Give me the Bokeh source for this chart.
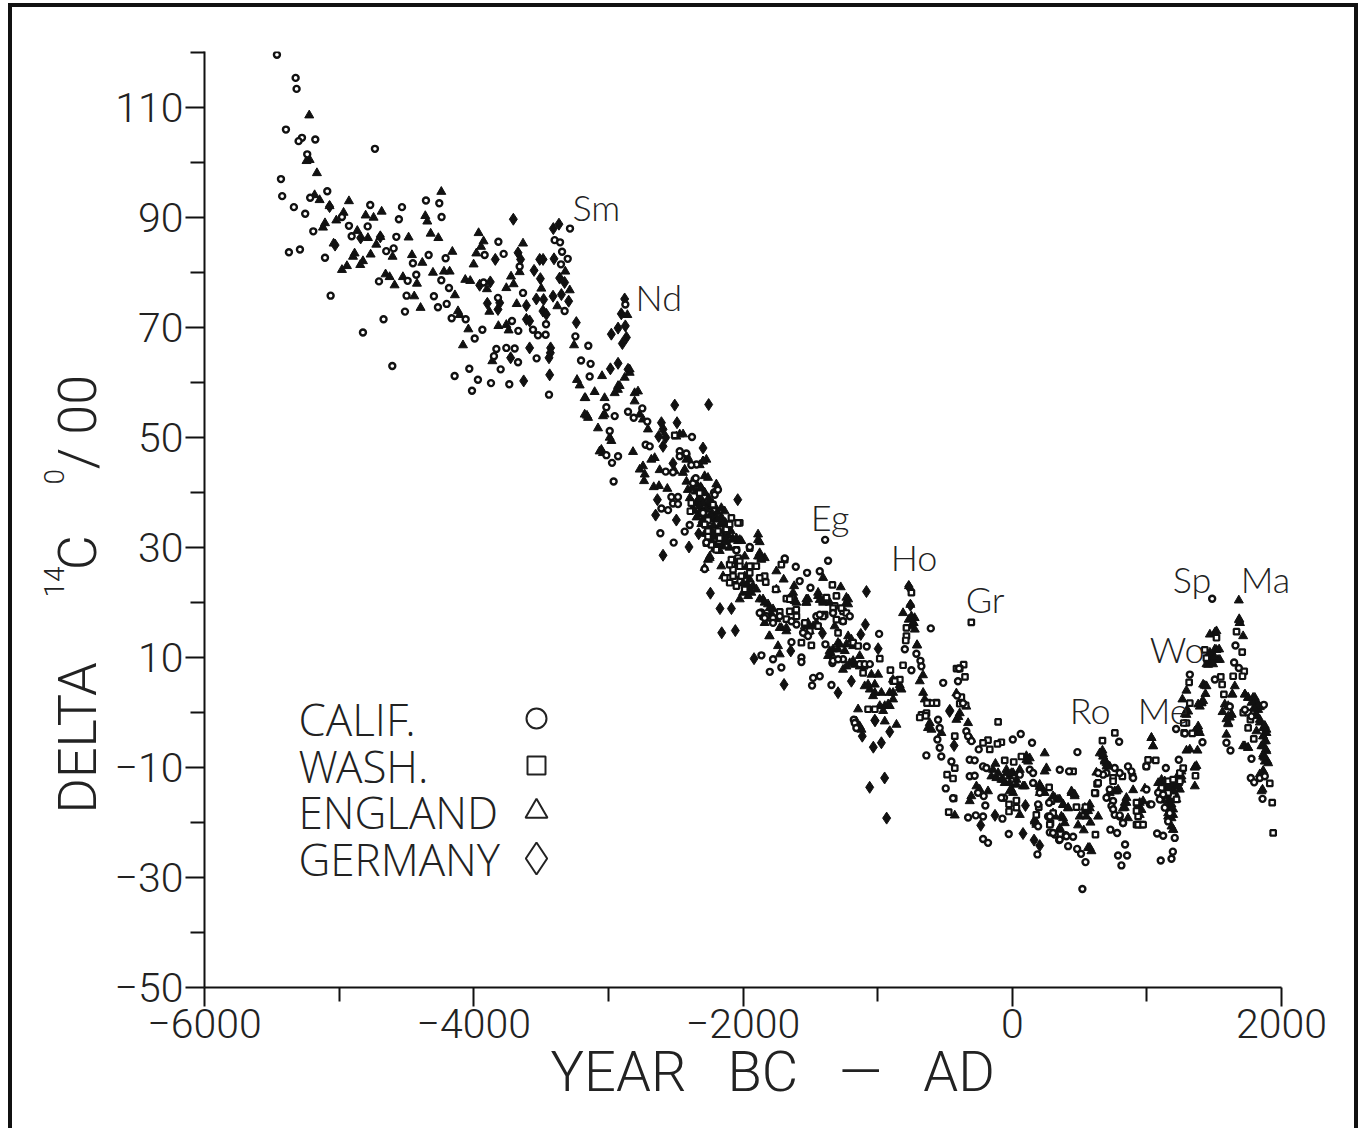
from bokeh.plotting import figure
from bokeh.embed import file_html
from bokeh.resources import INLINE
from bokeh.models import Label, FixedTicker, Range1d

calif = [(-5462,119.6),(-5323,115.4),(-5316,113.4),(-5395,106),(-5276,104.5),(-5301,103.9),(-5177,104.2),(-4734,102.5),(-5237,101.5),(-5432,97),(-5423,93.9),(-5336,91.9),(-5252,90.7),(-5215,93.6),(-5088,94.8),(-5192,87.5),(-5373,83.7),(-5291,84.2),(-5105,82.7),(-5063,75.8),(-4979,90.1),(-4927,88.5),(-4907,86.6),(-4788,88.4),(-4769,92.3),(-4556,89.7),(-4533,91.9),(-4575,86.5),(-4650,83.9),(-4595,84.4),(-4704,78.4),(-4452,81.7),(-4335,83.2),(-4427,79.6),(-4491,78.5),(-4499,75.8),(-4670,71.5),(-4823,69.1),(-4605,63),(-4355,93.1),(-4256,92.6),(-4239,90.1),(-4209,82.6),(-4241,78.6),(-4296,75.7),(-4184,77.2),(-4201,74.3),(-4266,73.7),(-4511,72.9),(-4164,71.7),(-4060,71.5),(-3936,69.6),(-3993,68),(-4142,61.2),(-4033,62.5),(-3969,60.5),(-4013,58.5),(-3872,59.9),(-3736,59.7),(-3800,62.4),(-3832,66.1),(-3850,64.8),(-3758,66.3),(-3696,66.2),(-3671,63.7),(-3533,64.4),(-3669,69.4),(-3716,71.2),(-3634,76.3),(-3817,85.6),(-3919,83.2),(-3778,83.4),(-3659,81.1),(-3820,75.4),(-3927,78.2),(-3463,70.6),(-3523,68.6),(-3466,68.7),(-3560,69.6),(-3285,88),(-3399,85.9),(-3359,85.5),(-3344,83.8),(-3302,82.5),(-3352,81.5),(-3325,73),(-3441,57.8),(-3245,68.4),(-3149,66.7),(-3203,64),(-3132,63.4),(-3139,61.1),(-2874,74.2),
(-3015,55.5),(-2953,53.9),(-2854,54.7),(-2812,53.6),(-2748,55.3),(-2711,52.9),(-2379,50.1),(-2723,48.7),(-2693,48.4),(-2990,51.2),(-3015,46.8),(-2928,46.6),(-2973,45.4),(-2961,42),(-2574,43.8),(-2507,38.7),(-2532,39.2),(-2483,39.2),(-2520,38),(-2483,37.9),(-2614,32.6),(-2515,30.9),(-2433,32.9),(-2396,34.1),(-2557,36.8),(-2606,37.1),(-2470,47.5),(-2421,46.9),(-2346,45.1),(-2359,42.4),(-2215,40),(-2297,36.3),(-2272,30.9),(-2285,26.1),(-1950,30.1),(-2049,29.5),(-1690,28),(-1608,26.5),(-1524,25.4),(-1579,23.9),(-1430,25.7),(-1390,31.4),(-1368,27.6),(-1499,22.7),(-1207,17.5),(-989,14.3),(-1081,12),(-605,15.3),(-798,11.5),(-712,10.7),(-682,9.4),(-675,8.4),(-749,7.7),(-513,5.4),(-1863,10.4),(-1801,7.4),(-1715,8.2),(-1479,6.3),(-1430,6.6),(-1487,4.9),(-1343,5),(-1177,-1.3),(-1777,9.7),(-1640,12.8),(-1566,10),(-1566,9.2),(-1388,12.4),(-1336,9),(-1257,9.7),(-1529,14.2),(-1863,18.2),(-1826,17.5),(-1777,17.2),
(-395,8),(-403,5.7),(-410,3.1),(-366,1.7),(-341,-3.4),(-328,-4.3),(-303,-5.2),(-638,-7.8),(-551,-1.3),(-539,-2.8),(-556,-4.9),(-539,-6.4),(-527,-8),(-452,-8.9),(-494,-13.8),(-440,-15.6),(-328,-19.1),(-271,-18.7),(-217,-18.9),(-217,-23),(-180,-23.7),(-200,-16.9),(-212,-15.2),(-254,-14.6),(-316,-11.6),(-279,-11.5),(-316,-8.6),(-279,-8.7),(-249,-6.7),(-217,-9.8),(-192,-10.1),(-73,-19.3),(-26,-22.1),(-61,-15.5),(4,-4.9),(63,-3.9),(147,-5.5),(353,-10.4),(422,-10.7),(484,-7.2),(794,-5.3),(130,-10.4),(155,-11),(192,-16.7),(274,-16.4),(266,-18.9),(279,-21.8),(316,-22.2),(348,-23.2),(397,-22.3),(415,-24.3),(482,-24.8),(511,-25.7),(544,-27.2),(521,-32.1),(187,-25.8),(192,-20.7),(729,-21.3),(779,-21.9),(838,-24),(786,-26),(853,-26),(811,-27.8),(1103,-26.9),(1183,-26.6),(1193,-25.3),(1076,-22),(1121,-22.4),(1217,-3),(1282,-3.8),(1413,-5.4),(1237,-8.6),(1141,-10.1),(1319,6.9),(1485,20.7),(1505,6),(1658,12.2),(1648,9.1),(1683,8.1),(1728,.5),(1777,-.7),(1869,1.4),(1591,-5.5),(1621,-6.9),(1777,-8.4),(1772,-11.9),(1797,-12.7),(1839,-11.9),(1876,-11.6),(1859,-15.7),(700,-15.5),(749,-16.1),(737,-17),(761,-18.6),(798,-18.9),(823,-20.1),(860,-9.8),(885,-10.7),(700,-11),(675,-11.3),(638,-11),(1022,-16.7),(1084,-14.6),(1109,-15.8),(1133,-17.3),(1158,-19.8),(1170,-18.3),(1207,-22.8),(996,-9.8),(1616,1.1),
(-2470,46.6),(-2421,47.1),(-2384,45),(-2520,43.7),(-2371,41.7),(-2351,42.6),(-2210,39.6),(-2186,40.5),(-2297,36.3),
(-1876,18.1),(-1839,17.2),(-1777,16.3),(-1727,17.5),(-1640,16.6),(-1603,16),(-1554,14.5),(-1517,13.9),(-1455,17.5),(-1430,17.8),(-1331,18.1),(-1257,16.6),(-1331,9.4),(-1294,9.7),(-1133,8.8),(-1096,8.8),(-1058,8.8),(-1170,-1.9),(-1158,-2.8),
(-81,-15.5),(56,-11.3),(155,-12.8),(204,-14.6),(279,-18.9),(303,-21.9),(353,-23.1),(402,-22.5),(452,-22.6),(761,-10.1),(798,-11),(898,-11.9),(724,-14),(749,-17.6),(798,-18.7),(823,-20.1),(997,-14),(1034,-16.7),(1096,-15.8),(1121,-14.9)]

wash = [(-2024,34.5),(-2507,50.4),(-2173,32.2),(-2260,32),(-2178,31.2),(-2037,27.8),(-2079,26.7),(-2074,26),(-2099,24.5),(-2062,24.2),(-2012,24.8),(-1938,26.6),(-1950,25.4),(-1839,24.8),(-1831,23.7),(-1757,22.4),(-1678,20.7),(-1640,20.9),(-1653,18.4),(-1604,18.7),(-1727,18.3),(-1678,17),(-1801,17.2),(-1851,17.5),(-1306,21.2),(-1336,23.2),(-1380,20.9),(-1393,17.8),(-1319,19.4),(-1257,18.4),(-1306,16.9),(-1257,16.6),(-1294,14.5),(-1566,12.7),(-1492,12.2),(-984,9.8),(-811,8.6),(-905,7.7),(-1108,7.2),(-1071,.6),(-1021,.6),(-885,5.7),(-835,6),(-786,15.4),(-786,13.9),(-791,13.1),(-749,21.8),(-625,1.8),(-563,1.8),(-674,-.4),(-637,-.1),(-414,8),
(-304,16.4),(-361,8.7),(-390,8),(-351,6.5),(-378,2.8),(-390,1.6),(-346,1.3),(-564,1.7),(-601,1.7),(-633,1.7),(-643,-.6),(-687,-.9),(-105,-1.7),(-427,-4.3),(-180,-5),(-217,-5.5),(-81,-5.4),(-110,-5.7),(-167,-6.7),(-56,-8.7),(11,-9),(68,-8),(-484,-11.3),(-440,-12),(-427,-10.1),(-435,-15.6),(-472,-18.1),(-24,-16.7),(-24,-18),(31,-16),(31,-17.3),(179,-18.6),(197,-17.2),(274,-13.6),(284,-20.1),(304,-18.3),(291,-16.1),(452,-10.7),(477,-17.2),(544,-17.2),(618,-22.2),(630,-13),(618,-14.7),(670,-5.1),(762,-3.7),(818,-11.6),(749,-11.9),(749,-12.5),(893,-11.6),(930,-16.7),(960,-20.4),(923,-20.4),(935,-18.9),(1009,-8.6),(1066,-8.7),(996,-9.8),(1195,-15.2),(1158,-12.5),(1245,-12.5),(1245,-11),(1270,-10.1),(1319,1.7),(1294,-1.9),(1274,-1.9),(1277,-3.7),(1337,-3.8),(1361,-11.5),(1314,5.5),(1195,-12.2),(1158,-14.6),(1109,-13.7),(1220,-15.8),(1641,6.6),(1666,14.7),(1708,11),(1723,7.5),(1710,6.6),(1549,6.5),(1559,5.1),(1572,3.3),(1604,1.1),(1517,13.6),(1430,11.4),(1442,9.9),(1716,0),(1752,0),(1769,-1.3),(1752,-2.8),(1794,-4.8),(1913,-12.9),(1931,-16.4),(1938,-21.9),
(-2260,35),(-2186,33),(-2086,35.4),(-2037,34.5),(-2272,30.8),(-2173,31.7),(-2198,29.6),(-2049,29.6),(-2037,28.1),(-1950,29.9),(-2099,26.9),(-2024,27.5),(-1950,26.6),(-1690,27.8),(-1715,26.9),(-2260,33),(-2235,30.5),(-2322,39.9),(-2384,38.1),(-2391,36.6),(-2223,37.8),(-2124,33.3),(-2285,34.2),(-2099,34.2),
(-2136,24.5),(-2099,23.6),(-2049,23),(-1987,22.4),(-1901,26.6),(-1876,24.5),(-2086,27.8),(-2024,26.6),(-2074,24.8),(-1653,20.6),(-1603,17.5),(-1541,16.3),(-1504,14.8),(-1442,15.7),(-1405,17.5),(-1331,19),(-1269,19),(-1232,18.1),(-1182,12.7),(-1145,12.1),(-1120,8.8),(-1096,8.5),(-873,5.7),
(279,-20.4),(638,-12.8),(613,-14.6),(923,-17.9),(935,-20.4),(972,-20.4),(923,-16.4)]

england = [(-5222,108.6),(-5219,100.5),(-5242,100.3),(-5165,98.1),(-5145,93.2),(-5182,94.1),(-5071,92.1),(-4927,93),(-4967,90.9),(-5021,89.5),(-4803,90.4),(-4744,90),(-4684,91.1),(-5105,89),(-5120,88.2),(-4865,87.6),(-4786,86.3),(-4694,86.5),(-4484,86.4),(-4724,85.1),(-5041,85.3),(-4885,83.5),(-4897,82.9),(-4766,83.3),(-4823,82.1),(-4843,81.4),(-4942,81.2),(-4979,80.5),(-4603,82.9),(-4459,83.2),(-4382,81.8),(-4320,87.1),(-4263,86.3),(-4360,90.3),(-4345,89.3),(-4241,94.7),(-4159,83.8),(-4303,80),(-4221,80.2),(-4179,80.2),(-4655,79.7),(-4625,79.2),(-4526,79.2),(-4588,77.7),(-4422,78),(-4442,75.7),(-4395,73.6),(-4140,75.9),(-4117,73),(-4105,72.3),(-4040,69.7),(-4080,66.8),(-3964,87.2),(-3927,85.7),(-3946,84.7),(-3981,83.5),(-4001,81.5),(-4063,78.7),(-4026,78.5),(-3723,79.3),(-3704,77.9),(-3758,77.2),(-3902,77),(-3681,74.3),(-3884,72.9),(-3817,70.3),(-3758,70.5),(-3741,69.5),(-3862,63.9),(-3634,85.3),(-3498,77.1),(-3379,73.9),(-3659,80.1),(-3320,80.2),(-3287,76.8),(-3255,66.8),(-3233,60.5),(-3213,59.5),(-3047,61.2),(-3171,57.2),(-2859,72.3),(-2928,59.4),(-2842,61.8),(-3159,54),
(-3077,51.7),(-2817,47.4),(-2619,44.1),(-2663,41),(-2562,40.7),(-2624,41.2),(-2735,42.1),(-1888,32.4),(-1876,31),(-1752,25.7),(-1698,24.2),(-1274,22.8),(-707,12.3),(-811,18.1),(-769,16.9),(-1529,20.6),(-1133,10.3),(-1294,12.7),(-1244,11.2),(-947,-1.6),
(-707,12.2),(-663,6.8),(-427,-18.7),(-613,-1.9),(-626,-2.8),(-125,-9.3),(56,-18.6),(241,-7.4),(204,-13.1),(204,-14.6),(489,-20.5),(531,-21.4),(581,-20),(670,-6.9),(625,-10.9),(898,-14.1),(860,-19.2),(1356,-13.4),(1294,-6.9),(1376,-6.9),(1319,-6.7),(1381,-3.4),(1294,4),(1435,3.4),(1455,9.6),(1517,14.8),(1480,9),(1653,4.8),(1562,.1),(1591,-4),(1683,20.4),(1715,13.9),(1814,-3.4),(1839,1),
(-3176,57.2),(-3151,53.6),(-3176,54.2),(-3102,58.3),(-3028,57.2),(-2929,58.7),(-2953,58.1),(-2916,59.4),(-2879,60.9),(-2842,62.4),(-3040,53.9),(-3028,54.2),(-2990,50),(-2978,49.4),(-3052,47.8),(-3040,47.2),(-3065,47.5),(-2805,58.1),(-2780,58.4),(-2805,56.6),(-2767,54.2),(-2743,53.3),(-2706,51.5),(-2767,44.2),(-2743,44.8),(-2681,46),(-2656,46.3),(-2730,43.3),(-2421,46),(-2433,44.2),(-2297,45.7),(-2272,46),(-2285,43),(-2260,42.7),(-2198,41.5),(-2198,40.6),(-2470,50.6),(-2495,50.2),(-2445,50.6),(-2507,43.9),
(-2420,42),(-2410,40.5),(-2395,39),(-2380,40.8),(-2370,38),(-2362,36.7),(-2350,40.2),(-2340,38.3),(-2330,36),(-2320,39.2),(-2310,37),(-2300,35),(-2290,38),(-2280,35.8),(-2270,34),(-2262,37.4),(-2250,35.2),(-2240,33.2),(-2232,36.3),(-2220,34),(-2210,32),(-2200,35.3),(-2190,33),(-2180,31),(-2170,34.2),(-2160,32),(-2150,30.2),(-2140,33.1),(-2130,31),(-2120,34),(-2110,32.2),(-2100,30),(-2090,33),(-2080,31.5),(-2345,41.5),(-2315,41),(-2285,40),(-2255,39),(-2225,38),(-2190,36.5),(-2160,35.5),(-2130,34.5),(-2375,37),(-2345,35.5),(-2310,34.3),(-2275,32.5),(-2240,31),(-2205,30),
(-2260,27.8),(-2247,28.4),(-2161,26.6),(-2148,24.8),(-1999,21.8),(-1962,21.2),(-2024,20.6),(-1950,24.2),(-1925,23),(-1901,22.4),(-1987,24.8),(-1888,28.4),(-1863,28.1),(-1839,28.1),(-1876,29),(-2037,31.2),(-2012,31.2),(-2074,31.5),(-1987,28.4),(-2260,32.7),(-2235,30.9),(-2210,29.7),(-2173,29.4),(-1975,26.5),(-1960,23),(-2000,23.5),
(-1851,20.6),(-1814,19.7),(-1777,18.8),(-1839,16.3),(-1752,17),(-1715,15.4),(-1678,14.8),(-1628,21.8),(-1616,20.3),(-1517,20.6),(-1442,21.2),(-1405,20.3),(-1356,20),(-1517,15.7),(-1479,15.7),(-1504,14.8),(-1219,20.6),(-1232,20),(-1405,24.5),(-1802,13.9),(-1740,12.1),(-1727,10.6),(-1356,11.2),(-1331,11.5),(-1319,15.7),(-1752,22.4),(-1620,23),(-1790,18),(-1805,13.9),(-1530,20),(-1430,20.5),
(-1096,4.8),(-1058,4.2),(-1021,5.1),(-996,6.9),(-972,3.6),(-910,3.6),(-885,2.4),(-947,1.2),(-910,1.2),(-984,1.2),(-835,4.5),(-860,-2.2),(-1120,-3.1),(-1145,.6),(-1158,-1.6),(-1133,-2.5),(-1257,7.8),(-1207,9),(-1170,8.7),(-1133,8.4),(-1294,11.5),(-1232,12.4),(-1195,13.3),(-1343,10.6),(-1368,10.3),
(-836,5),(-861,5.7),(-886,6),(-767,23),(-757,19.6),(-732,16.3),(-725,17.2),(-749,15.7),(-415,-1.3),(-390,-.1),(-341,1.1),(-328,-1.9),(-304,-4.9),(-415,3.5),(-400,-.8),
(-155,-11.6),(-118,-11.9),(-81,-12.2),(-43,-10.4),(-19,-11.6),(6,-11),(31,-12.2),(56,-10.4),(-56,-12.8),(-6,-14),(80,-13.4),(105,-8.6),(130,-8.3),(-105,-11),(-143,-10.4),(254,-10.1),(241,-10.7),(-266,-13.4),(-242,-14),(-304,-15.2),(-316,-16.1),(-180,-14.3),(303,-15.2),(340,-15.8),(378,-16.8),(415,-17.4),(365,-18.9),(390,-20.1),(316,-18.9),(353,-21.3),(179,-20.1),(167,-19.5),(204,-13.5),(228,-14.2),(440,-14.6),(464,-15.2),(539,-18),(576,-17.4),(551,-18.9),(563,-24.6),(588,-25.2),(638,-18.9),(687,-8.6),(675,-8),(700,-9.2),(724,-9.8),(650,-7.4),(774,-14.3),(724,-14.6),(836,-16.4),(848,-15.5),(823,-17.4),(985,-13.8),(947,-16.4),(960,-17.7),(1034,-4.6),(1046,-6.1),
(1084,-12.8),(1121,-13.4),(1158,-12.8),(1195,-13.4),(1232,-12.8),(1257,-11.6),(1133,-14.6),(1170,-15.2),(1207,-14.6),(1245,-14),(1158,-16.1),(1183,-16.7),(1170,-17.6),(1195,-18.6),(1158,-18.9),(1195,-21.3),(1183,-20.7),(1109,-12.2),(1096,-14),(1220,-11.9),(1257,-10.7),(1356,-9.9),(1307,.2),(1294,-.4),(1381,-2.5),(1356,-3.4),(1406,1.7),(1393,1.1),(1430,4.9),(1467,10.5),(1492,10.2),(1517,11.4),(1529,9.6),(1480,9.3),(1455,8.7),(1505,14.5),(1690,16.3),(1685,16.8),(1633,3.3),(1604,-.7),(1629,-.4),(1604,-1.9),(1728,3.3),(1752,2.7),(1789,2.7),(1814,2),(1802,1.1),(1827,.5),(1814,-.4),(1839,-1.3),(1864,-2.8),(1888,-3.1),(1864,-4.3),(1876,-5.2),(1864,-6.1),(1888,-7),(1864,-8),(1876,-8.9),(1901,-9.2),(1728,-6.1),(1752,-6.4),(1864,-10.7),(1859,-14),
(1468,10.9),(1505,11.5),(1537,11.5),(1468,9.4),(1505,10),(1542,9.6),(1443,8.8),(1492,8.8),(1505,14.5),(1468,14.2),(1690,16.3),(1686,17),(1802,2.7),(1777,1.8),(1827,1.2),(1802,.6),(1728,3.3),(1752,2.7),(1814,-.6),(1839,-1.8),(1876,-2.4),(1888,-3.7),(1864,-4.3),(1884,-5.2),(1851,-6.1),(1884,-6.7),(1864,-7.6),(1894,-8.8),(1876,-8.2),(1864,-10.6),(1839,-11.2),(1715,-6.1),(1752,-6.4),(1851,-14.3),(1616,-.9),(1629,-.3),(1591,-1.2),(1579,1.5),(1604,1.2),(1604,-2.1),(1418,5.1),(1443,4.8),(1406,1.8),(1381,1.5),(1418,2.1),(1294,.3),(1282,-.3),(1264,2.4),(1356,-3.7),(1381,-3),(1393,-3.7),(1356,-10),(1368,-9.7),(1636,3.3),
(-43,-11),(-6,-11),(-68,-12.2),(-19,-12.8),(31,-13.1),(6,-14.6),(-19,-14.3),(118,-8.9),(105,-7.9),(93,-13.4),(217,-13.7),(241,-14.6),(316,-15.5),(353,-15.8),(378,-16.7),(415,-17.3),(167,-19.8),(179,-20.4),(303,-18.3),(378,-19.2),(353,-21),(440,-14.3),(464,-14.9),(539,-17.3),(563,-17.9),(576,-16.7),(501,-18.9),(576,-24.6),(675,-7.6),(687,-8.9),(700,-9.8),(761,-14.3),(786,-14),(848,-16.4),(836,-17.3),(935,-17.6),(947,-18.6),(972,-16.1),(1034,-4.6),(1046,-6.1),(1121,-13.1),(1158,-13.7),(1195,-14.3),(1232,-13.4),(1146,-14.9),(1183,-15.5),(1220,-15.8),(1170,-16.7),(1195,-17.6),(1158,-18.3),(1183,-19.2),(1133,-12.5),(1096,-14),(1257,-12.2),(1195,-21.3),
(-2446,43.6),(-2408,46.3),(-2322,45),(-2297,45.7),(-2359,41.7),(-2309,40.8),(-2285,39.9),(-2334,38.7),(-2297,38.1),(-2248,38.4),(-2210,37.5),(-2161,37.2),(-2136,36.6),(-2272,36.9),(-2322,37.5),(-2235,35.7),(-2186,35.1),(-2148,34.5),(-2111,33.6),(-2272,33),(-2223,32.6),(-2148,32.3),(-2124,31.4),(-2235,31.4),(-2186,30.5),(-2248,28.1),(-2285,26.3),(-1876,28.4),(-1864,27.8),(-2024,31.4),(-1888,31.4),(-2049,31.7),
(-1975,23),(-1950,22.4),(-1938,21.8),(-1876,20.6),(-1839,20),(-1802,19),(-1628,21.2),(-1603,20),(-1529,20),(-1442,21.8),(-1405,20),(-1232,20.9),(-1219,19.7),(-1517,16.3),(-1455,16.3),(-1541,15.7),(-1678,15.4),(-1727,15.4),(-1219,13.9),(-1281,12.4),(-1182,12.1),(-1232,8.4),(-1182,9.4),(-1046,6.9),(-1071,5.1),(-1021,3.6),(-1034,3),(-885,3.6),(-922,1.5),(-959,.3),(-600,-3.1),(-526,-3.7),(-662,3.6),(-650,2.4),(-687,5.7),(-823,4.2),(-736,16.3),(-724,15.1),(-749,17.5)]

germany = [(-3706,89.7),(-3409,88),(-3367,88.8),(-3404,82.5),(-3840,82.4),(-3671,83.6),(-3652,82.4),(-3552,80.4),(-3505,78.9),(-3510,82.4),(-3485,82.4),(-3877,78.3),(-3956,77.7),(-3899,74.4),(-3820,73.3),(-3807,74.5),(-3609,74),(-3535,75.2),(-3481,75.1),(-3486,73),(-3461,72.4),(-3609,71.5),(-3585,71.2),(-3585,66.3),(-3429,66.3),(-3431,65.4),(-3441,64.5),(-3436,61.4),(-3629,60.3),(-3726,64.5),(-3238,70.9),(-3411,75.7),(-3349,76),(-3295,74.8),(-3362,79),(-3325,78.2),(-2879,75.2),(-2904,72.5),(-2978,68.8),(-2928,69.9),(-2874,70.3),(-2866,68.2),(-2896,67.1),(-2928,63.5),(-2985,62.5),(-2854,62.4),(-5071,92),(-4840,86.3),(-5030,85),(-4694,86.5),
(-2507,55.9),(-2255,56),(-2490,52.7),(-2606,52.7),(-2594,51.5),(-2574,50),(-2626,50.2),(-2594,48.4),(-2297,48.1),(-2520,45.3),(-2039,38.7),(-2636,38.7),(-2649,35.9),(-2495,35),(-2329,32.5),(-2401,30.1),(-2594,28.6),(-2242,21.7),(-2171,18.9),(-2158,14.5),(-2057,14.9),(-2086,18.9),(-1083,22),(-1091,16),(-1410,14.4),(-1125,14.2),(-996,11.6),(-1918,9.8),(-1645,11.2),(-1695,5.1),(-1294,3.6),(-1195,5.7),(-769,22.9),(-756,19.5),(-464,.4),(-1021,-1.4),(-910,-3.5),
(-465,.2),(-1032,-6.3),(-972,-5.5),(-1019,-1.5),(-1114,-4.3),(-1059,-13.6),(-933,-19.2),(-948,-11.9),(-128,-18.7),(98,-16.9),(80,-22),(162,-23.2),(204,-24.2),(-234,-20.5),(-432,-6)]

x_labels = [-6000, -4000, -2000, 0, 2000]
x_minor = [-5000, -3000, -1000, 1000]
y_labels = [110, 90, 70, 50, 30, 10, -10, -30, -50]
y_minor = [120, 100, 80, 60, 40, 20, 0, -20, -40]
events = [("Sm",-3266,92),("Nd",-2798,75.6),("Eg",-1497,35.5),("Ho",-903,28.2),("Gr",-346,20.7),("Sp",1192,24.2),("Wo",1021,11.5),("Ro",427,0.4),("Me",932,0.4)]
edge_event = ("Ma",1697,24.2)
legend_names = ["CALIF.", "WASH.", "ENGLAND", "GERMANY"]

NB = "\u00a0"
L, R, T, B = 205, 1282, 52, 988
Y_TOP = 120.2
OX, OY = 13, 8   # the figure's content corner in the returned picture
W, H = 1350, 1125

def xp(px):
    return -6000 + (px - L) * 8000 / (R - L)
def yp(py):
    return -50 + (B - py) * (Y_TOP + 50) / (B - T)

p = figure(width=W, height=H, output_backend="svg", toolbar_location=None,
           x_range=Range1d(-6000, 2000), y_range=Range1d(-50, Y_TOP),
           min_border_left=L - OX, min_border_right=OX + W - R,
           min_border_top=T - OY, min_border_bottom=OY + H - B,
           styles={"margin": "3px 0 0 8px", "border-left": "4px solid #111111",
                   "border-top": "4px solid #111111", "border-right": "4px solid #111111"})
p.grid.visible = False
p.outline_line_color = None
p.background_fill_color = "white"

for ax, maj, mnr in ((p.xaxis[0], x_labels, x_minor), (p.yaxis[0], y_labels, y_minor)):
    ax.ticker = FixedTicker(ticks=maj, minor_ticks=mnr)
    ax.major_tick_in = 0
    ax.minor_tick_in = 0
    ax.major_tick_out = 19
    ax.minor_tick_out = 14
    ax.axis_line_width = 2
    ax.major_tick_line_width = 2
    ax.minor_tick_line_width = 2
    ax.axis_line_color = "#111111"
    ax.major_tick_line_color = "#111111"
    ax.minor_tick_line_color = "#111111"
    ax.major_label_text_font = "Roboto Light"
    ax.major_label_text_font_size = "41px"
    ax.major_label_text_color = "#222222"
    ax.major_label_standoff = 2
p.yaxis[0].major_label_orientation = "horizontal"

def xy(rows):
    return [r[0] for r in rows], [r[1] for r in rows]

gx, gy = xy(germany)
ex, ey = xy(england)
cx, cy = xy(calif)
wx, wy = xy(wash)
p.scatter(gx, gy, marker="diamond", size=12, color="#111111", line_width=1)
p.scatter(ex, ey, marker="triangle", size=9, color="#111111", line_width=1)
p.scatter(wx, wy, marker="square", size=5.5, fill_color="white", line_color="#111111", line_width=2.2)
p.scatter(cx, cy, marker="circle", size=6, fill_color="white", line_color="#111111", line_width=2.4)

def event_label(name, x, y):
    return Label(x=x, y=y, text=name, text_font="Lato Light", text_font_size="36px",
                 text_color="#222222", text_baseline="middle", text_align="left")

for name, x, y in events:
    p.add_layout(event_label(name, x, y))
p.add_layout(event_label(*edge_event), "right")

for name, py, marker, size in zip(legend_names, (719, 766, 812, 859),
                                  ("circle", "square", "triangle", "diamond"),
                                  (20, 18, 22, 32)):
    p.add_layout(Label(x=xp(299), y=yp(py), text=name, text_font="Open Sans Light", text_font_size="44px",
                       text_color="#222222", text_baseline="middle", text_align="left"))
    p.scatter([xp(537)], [yp(py)], marker=marker, size=size, fill_color=None,
              line_color="#222222", line_width=2)

def vlabel(text, x, y, size):
    p.add_layout(Label(x=xp(x), y=yp(y), text=text, text_font="Roboto Light", text_font_size=size, angle=90,
                       angle_units="deg", text_color="#222222",
                       text_baseline="middle", text_align="left"), "left")

vlabel("DELTA" + NB*7 + "C" + NB*5 + "/" + NB + "00", 78, 814, "54px")
vlabel("14" + NB*12 + "0", 55, 598, "28px")

p.add_layout(Label(x=xp(551), y=yp(1072), text="YEAR" + NB*3 + "BC" + NB*3 + "\u2014" + NB*3 + "AD",
                   text_font="Roboto Light", text_font_size="56px", text_color="#222222",
                   text_baseline="middle", text_align="left"), "below")

open("out.html", "w").write(file_html(p, INLINE))
